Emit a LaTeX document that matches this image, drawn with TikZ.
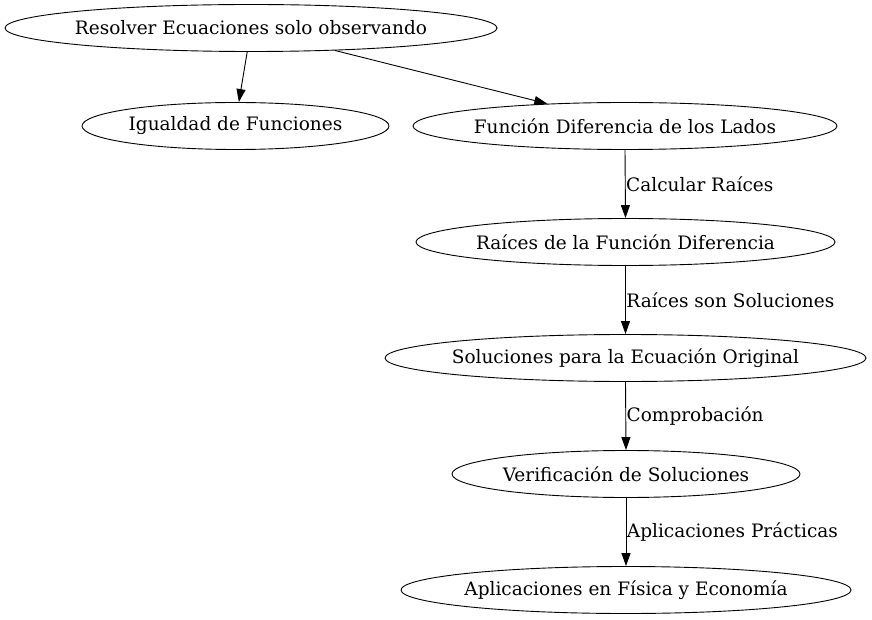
\documentclass[tikz,border=0pt]{standalone}
\usepackage{fontspec}
\setmainfont{DejaVu Serif}
\usetikzlibrary{shapes.geometric,arrows.meta}
\begin{document}
\begin{tikzpicture}[x=1pt,y=1pt,
  every node/.style={font=\fontsize{18.5}{22}\selectfont},
  ell/.style={draw, ellipse, line width=0.9pt, inner sep=0pt, minimum height=47pt},
  edge/.style={draw, line width=0.9pt, -{Triangle[length=13pt,width=9pt]}},
  elabel/.style={anchor=west, inner sep=0.5pt}]
\useasboundingbox (0,0) rectangle (872,-620);
\node[ell, minimum width=492pt] (n1) at (251,-28) {\makebox[0pt]{\raisebox{-1pt}{Resolver Ecuaciones solo observando}}};
\node[ell, minimum width=307pt] (n2) at (235.5,-126) {\makebox[0pt]{\raisebox{-1pt}{Igualdad de Funciones}}};
\node[ell, minimum width=424pt] (n3) at (625,-126) {\makebox[0pt]{\raisebox{-1pt}{Función Diferencia de los Lados}}};
\node[ell, minimum width=419pt] (n4) at (625.5,-242) {\makebox[0pt]{\raisebox{-1pt}{Raíces de la Función Diferencia}}};
\node[ell, minimum width=481pt] (n5) at (625.5,-358) {\makebox[0pt]{\raisebox{-1pt}{Soluciones para la Ecuación Original}}};
\node[ell, minimum width=348pt] (n6) at (626,-474) {\makebox[0pt]{\raisebox{-1pt}{Verificación de Soluciones}}};
\node[ell, minimum width=450pt] (n7) at (626,-590) {\makebox[0pt]{\raisebox{-1pt}{Aplicaciones en Física y Economía}}};
\draw[edge] (n1.-99) -- (n2.82);
\draw[edge] (n1.-15) -- (n3.164);
\draw[edge] (n3.south) -- node[elabel] {Calcular Raíces} (n4.north);
\draw[edge] (n4.south) -- node[elabel] {Raíces son Soluciones} (n5.north);
\draw[edge] (n5.south) -- node[elabel] {Comprobación} (n6.north);
\draw[edge] (n6.south) -- node[elabel] {Aplicaciones Prácticas} (n7.north);
\end{tikzpicture}
\end{document}
